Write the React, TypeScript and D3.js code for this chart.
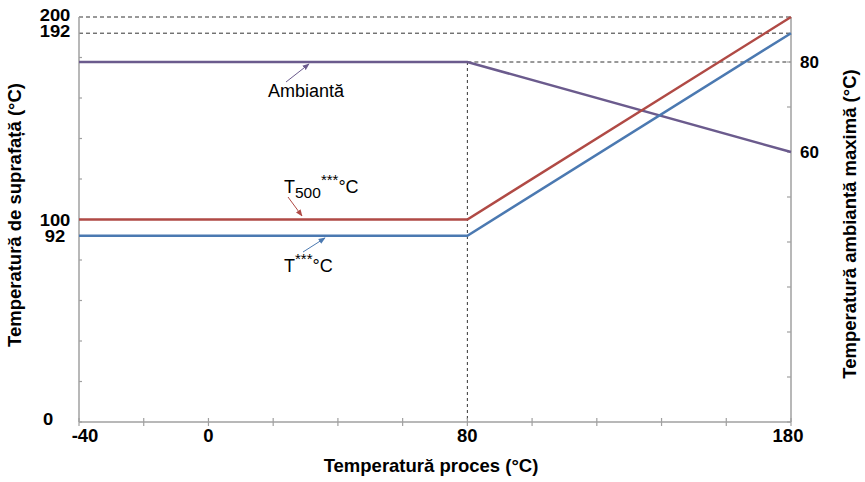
import React from "react";
import * as d3 from "d3";

const processTemp = [-40, 80, 180];
const t500Values = [100, 100, 200];
const tStarValues = [92, 92, 192];
const ambientValues = [80, 80, 60];

const xTickValues = d3.range(-40, 181, 20);
const xTickLabels = [-40, 0, 80, 180];
const leftTickValues = d3.range(0, 201, 20);
const leftTickLabels = [0, 92, 100, 192, 200];
const rightTickValues = d3.range(0, 91, 10);
const rightTickLabels = [60, 80];

const W = 865;
const H = 482;
const M = { left: 79, right: 74, top: 17, bottom: 60 };

const RED = "#b04a45";
const BLUE = "#4b79b1";
const PURPLE = "#6b5b8d";
const AXIS = "#a0a0a0";
const DASH = "#333";
const FONT = "'Liberation Sans', Arial, sans-serif";

export default function App() {
  const x = d3.scaleLinear().domain([-40, 180]).range([M.left, W - M.right]);
  const yL = d3.scaleLinear().domain([0, 200]).range([H - M.bottom, M.top]);
  const yR = d3.scaleLinear().domain([0, 90]).range([H - M.bottom, M.top]);

  const lineL = d3
    .line<number>()
    .x((_, i) => x(processTemp[i]))
    .y((d) => yL(d));
  const lineR = d3
    .line<number>()
    .x((_, i) => x(processTemp[i]))
    .y((d) => yR(d));

  const x0 = x(-40);
  const x1 = x(180);
  const yb = yL(0);
  const yTop = yL(200);
  const kneeX = x(80);
  const ambY = yR(80);

  const leftLabelX = (v: number) => (v === 0 ? 48 : 55);
  const leftLabelDy = (v: number) => (v === 0 ? 3 : v >= 192 ? 4 : 6);
  const xLabelPos = (v: number) => (v === -40 ? x(v) + 6 : v === 180 ? x(v) - 3 : x(v));

  return (
    <svg
      width={W}
      height={H}
      style={{ position: "absolute", left: 0, top: 0, background: "#fff" }}
      fontFamily={FONT}
    >
      <defs>
        {[
          ["arrRed", RED],
          ["arrBlue", BLUE],
          ["arrPurple", PURPLE],
        ].map(([id, c]) => (
          <marker
            key={id}
            id={id}
            viewBox="0 0 10 10"
            refX="9"
            refY="5"
            markerWidth="7"
            markerHeight="7"
            orient="auto"
          >
            <path d="M0,1 L10,5 L0,9 z" fill={c} />
          </marker>
        ))}
      </defs>

      {/* dashed reference lines */}
      <line x1={x0} x2={x1} y1={yL(200)} y2={yL(200)} stroke={DASH} strokeWidth={1} strokeDasharray="4,3" />
      <line x1={x0} x2={x1} y1={yL(192)} y2={yL(192)} stroke={DASH} strokeWidth={1} strokeDasharray="4,3" />
      <line x1={kneeX} x2={x1} y1={ambY} y2={ambY} stroke={DASH} strokeWidth={1} strokeDasharray="4,3" />
      <line x1={kneeX} x2={kneeX} y1={ambY} y2={yb} stroke={DASH} strokeWidth={1} strokeDasharray="3,3" />

      {/* axes */}
      <line x1={x0} x2={x0} y1={yTop} y2={yb} stroke={AXIS} strokeWidth={1.5} />
      <line x1={x1} x2={x1} y1={yTop} y2={yb} stroke={AXIS} strokeWidth={1.5} />
      <line x1={x0} x2={x1} y1={yb} y2={yb} stroke={AXIS} strokeWidth={1.5} />
      {xTickValues.map((v) => (
        <line key={"xt" + v} x1={x(v)} x2={x(v)} y1={yb - 4} y2={yb + 4} stroke={AXIS} strokeWidth={1.2} />
      ))}
      {leftTickValues.map((v) => (
        <line key={"lt" + v} x1={x0} x2={x0 + 3} y1={yL(v)} y2={yL(v)} stroke={AXIS} strokeWidth={1.2} />
      ))}
      {rightTickValues.map((v) => (
        <line key={"rt" + v} x1={x1 - 4} x2={x1} y1={yR(v)} y2={yR(v)} stroke={AXIS} strokeWidth={1.2} />
      ))}

      {/* series */}
      <path d={lineR(ambientValues) || ""} fill="none" stroke={PURPLE} strokeWidth={2.5} />
      <path d={lineL(t500Values) || ""} fill="none" stroke={RED} strokeWidth={2.5} />
      <path d={lineL(tStarValues) || ""} fill="none" stroke={BLUE} strokeWidth={2.5} />

      {/* tick labels */}
      {xTickLabels.map((v) => (
        <text
          key={"xl" + v}
          x={xLabelPos(v)}
          y={yb + 20}
          textAnchor="middle"
          fontSize={18.5}
          fontWeight="bold"
        >
          {v}
        </text>
      ))}
      {leftTickLabels.map((v) => (
        <text
          key={"ll" + v}
          transform={`translate(${leftLabelX(v)}, ${yL(v) + leftTickLabelDy(v, leftLabelDy)}) scale(1.15, 1)`}
          textAnchor="middle"
          fontSize={16}
          fontWeight="bold"
        >
          {v}
        </text>
      ))}
      {rightTickLabels.map((v) => (
        <text key={"rl" + v} x={x1 + 9} y={yR(v) + 6} textAnchor="start" fontSize={17} fontWeight="bold">
          {v}
        </text>
      ))}

      {/* axis titles */}
      <text x={431} y={472} textAnchor="middle" fontSize={18.5} fontWeight="bold">
        Temperatură proces (°C)
      </text>
      <text
        transform={`translate(21, 215) rotate(-90)`}
        textAnchor="middle"
        fontSize={18.5}
        fontWeight="bold"
      >
        Temperatură de suprafață (°C)
      </text>
      <text
        transform={`translate(856, 224) rotate(-90)`}
        textAnchor="middle"
        fontSize={18.5}
        fontWeight="bold"
      >
        Temperatură ambiantă maximă (°C)
      </text>

      {/* annotations */}
      <line x1={286} y1={82} x2={309} y2={64} stroke={PURPLE} strokeWidth={1} markerEnd="url(#arrPurple)" />
      <text x={268} y={97} fontSize={18}>
        Ambiantă
      </text>

      <line x1={288} y1={197} x2={302} y2={216} stroke={RED} strokeWidth={1} markerEnd="url(#arrRed)" />
      <text x={284} y={193} fontSize={18}>
        T
        <tspan fontSize={15.5} dy={5}>500</tspan>
        <tspan fontSize={15} dy={-13}>***</tspan>
        <tspan dy={8}>°C</tspan>
      </text>

      <line x1={303} y1={252} x2={325} y2={238} stroke={BLUE} strokeWidth={1} markerEnd="url(#arrBlue)" />
      <text x={284} y={272} fontSize={18}>
        T
        <tspan fontSize={15} dy={-8}>***</tspan>
        <tspan dy={8}>°C</tspan>
      </text>
    </svg>
  );
}

function leftTickLabelDy(v: number, f: (v: number) => number) {
  return f(v);
}
